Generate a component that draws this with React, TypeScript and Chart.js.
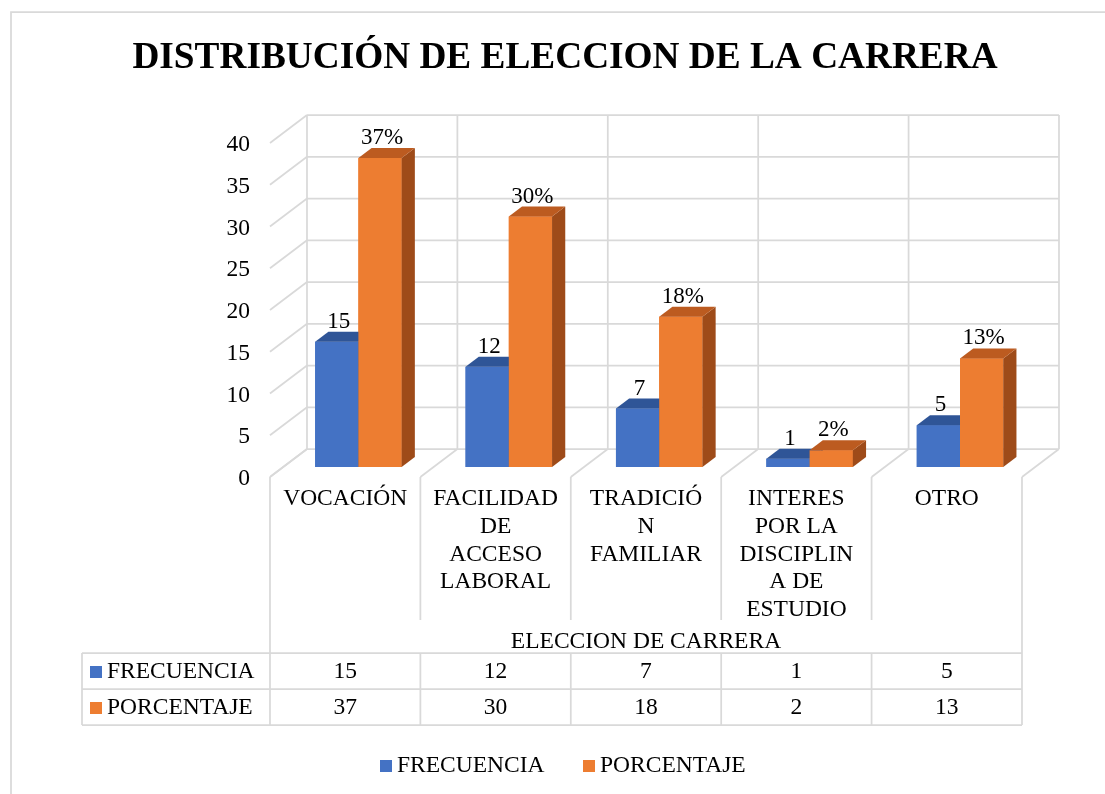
import React, { useEffect, useRef } from "react";
import { Chart, registerables } from "chart.js";

Chart.register(...registerables);

// ---------- data ----------
const TITLE = "DISTRIBUCIÓN DE ELECCION DE LA CARRERA";
const AXIS_TITLE = "ELECCION DE CARRERA";
const CATEGORIES: string[][] = [
  ["VOCACIÓN"],
  ["FACILIDAD", "DE", "ACCESO", "LABORAL"],
  ["TRADICIÓ", "N", "FAMILIAR"],
  ["INTERES", "POR LA", "DISCIPLIN", "A DE", "ESTUDIO"],
  ["OTRO"],
];
const SERIES_NAMES = ["FRECUENCIA", "PORCENTAJE"];
const FRECUENCIA = [15, 12, 7, 1, 5];
const PORCENTAJE = [37, 30, 18, 2, 13];
const LABEL_SUFFIX = ["", "%"];
const Y_TICKS = [0, 5, 10, 15, 20, 25, 30, 35, 40];

// ---------- styles ----------
const FONT = "'Liberation Serif', 'Times New Roman', serif";
const GRID = "#d9d9d9";
const FRONT_COLORS = ["#4472C4", "#ED7D31"];
const TOP_COLORS = ["#2F5597", "#BC5B20"];
const SIDE_COLORS = ["#284B87", "#9E4B19"];
const DEPTH_X = 37;
const DEPTH_Y = 28;
const BAR_T0 = 10 / 28;
const BAR_T1 = 20 / 28;

function pt(chart: any, edge: number, v: number, t: number): [number, number] {
  const xs = chart.scales.x;
  const ys = chart.scales.y;
  const x = xs.getPixelForValue(edge - 0.5) + (t - BAR_T0) * DEPTH_X;
  const y = ys.getPixelForValue(v) - (t - BAR_T0) * DEPTH_Y;
  return [x, y];
}

function line(ctx: CanvasRenderingContext2D, a: [number, number], b: [number, number]) {
  ctx.beginPath();
  ctx.moveTo(a[0], a[1]);
  ctx.lineTo(b[0], b[1]);
  ctx.stroke();
}

const threeD = {
  id: "threeD",
  beforeDatasetsDraw(chart: any) {
    const ctx: CanvasRenderingContext2D = chart.ctx;
    const n = CATEGORIES.length;
    ctx.save();
    ctx.strokeStyle = GRID;
    ctx.lineWidth = 1.75;

    // outer chart border
    ctx.beginPath();
    ctx.moveTo(11, 800);
    ctx.lineTo(11, 12);
    ctx.lineTo(1110, 12);
    ctx.stroke();

    // back wall horizontal grid + side wall diagonals
    const yMax = Y_TICKS[Y_TICKS.length - 1];
    for (const v of Y_TICKS) {
      line(ctx, pt(chart, 0, v, 1), pt(chart, n, v, 1));
      line(ctx, pt(chart, 0, v, 0), pt(chart, 0, v, 1));
    }
    // back wall verticals + floor diagonals
    for (let i = 0; i <= n; i++) {
      line(ctx, pt(chart, i, 0, 1), pt(chart, i, yMax, 1));
      line(ctx, pt(chart, i, 0, 0), pt(chart, i, 0, 1));
    }

    // category label columns below floor
    const floorY = pt(chart, 0, 0, 0)[1];
    const tableTop = floorY + 176;
    const rowH = 36;
    for (let i = 0; i <= n; i++) {
      const [x] = pt(chart, i, 0, 0);
      const bottom = i === 0 || i === n ? tableTop : floorY + 143;
      line(ctx, [x, floorY], [x, bottom]);
    }

    // table
    const tLeft = 82;
    const tRight = pt(chart, n, 0, 0)[0];
    for (let r = 0; r <= SERIES_NAMES.length; r++) {
      line(ctx, [tLeft, tableTop + r * rowH], [tRight, tableTop + r * rowH]);
    }
    const tBottom = tableTop + SERIES_NAMES.length * rowH;
    line(ctx, [tLeft, tableTop], [tLeft, tBottom]);
    for (let i = 0; i <= n; i++) {
      const [x] = pt(chart, i, 0, 0);
      line(ctx, [x, tableTop], [x, tBottom]);
    }

    ctx.fillStyle = "#000";
    // y tick labels
    ctx.font = `23.5px ${FONT}`;
    ctx.textAlign = "right";
    ctx.textBaseline = "middle";
    for (const v of Y_TICKS) {
      const [x, y] = pt(chart, 0, v, 0);
      ctx.fillText(String(v), x - 20, y + 2);
    }

    // category labels
    ctx.textAlign = "center";
    CATEGORIES.forEach((lines, i) => {
      const cx = (pt(chart, i, 0, 0)[0] + pt(chart, i + 1, 0, 0)[0]) / 2;
      lines.forEach((s, k) => {
        ctx.fillText(s, cx, floorY + 22 + k * 27.7);
      });
    });

    // axis title
    const midX = (pt(chart, 0, 0, 0)[0] + tRight) / 2;
    ctx.fillText(AXIS_TITLE, midX, floorY + 165);

    // table contents
    const seriesData = [FRECUENCIA, PORCENTAJE];
    SERIES_NAMES.forEach((name, r) => {
      const cy = tableTop + r * rowH + rowH / 2 + 1;
      ctx.fillStyle = FRONT_COLORS[r];
      ctx.fillRect(90, cy - 6, 12, 12);
      ctx.fillStyle = "#000";
      ctx.textAlign = "left";
      ctx.fillText(name, 107, cy);
      ctx.textAlign = "center";
      seriesData[r].forEach((v, i) => {
        const cx = (pt(chart, i, 0, 0)[0] + pt(chart, i + 1, 0, 0)[0]) / 2;
        ctx.fillText(String(v), cx, cy);
      });
    });

    // legend
    const legendX = [380, 583];
    SERIES_NAMES.forEach((name, r) => {
      ctx.fillStyle = FRONT_COLORS[r];
      ctx.fillRect(legendX[r], 760, 12, 12);
      ctx.fillStyle = "#000";
      ctx.textAlign = "left";
      ctx.fillText(name, legendX[r] + 17, 766);
    });

    // title
    ctx.font = `bold 37.3px ${FONT}`;
    ctx.textAlign = "center";
    ctx.fillText(TITLE, 565, 58);
    ctx.restore();
  },
  afterDatasetsDraw(chart: any) {
    const ctx: CanvasRenderingContext2D = chart.ctx;
    const dx = (BAR_T1 - BAR_T0) * DEPTH_X;
    const dy = (BAR_T1 - BAR_T0) * DEPTH_Y;
    const metas = chart.data.datasets.map((_: any, di: number) => chart.getDatasetMeta(di));
    ctx.save();
    // repaint each category's bars in series order, with top and side faces
    CATEGORIES.forEach((_, i) => {
      metas.forEach((meta: any, ds: number) => {
        const el = meta.data[i];
        const { x, y, base, width } = el.getProps(["x", "y", "base", "width"], true);
        const x0 = x - width / 2;
        const x1 = x + width / 2;
        ctx.fillStyle = FRONT_COLORS[ds];
        ctx.fillRect(x0, y, width, base - y);
        ctx.fillStyle = SIDE_COLORS[ds];
        ctx.beginPath();
        ctx.moveTo(x1, y);
        ctx.lineTo(x1 + dx, y - dy);
        ctx.lineTo(x1 + dx, base - dy);
        ctx.lineTo(x1, base);
        ctx.closePath();
        ctx.fill();
        ctx.fillStyle = TOP_COLORS[ds];
        ctx.beginPath();
        ctx.moveTo(x0, y);
        ctx.lineTo(x1, y);
        ctx.lineTo(x1 + dx, y - dy);
        ctx.lineTo(x0 + dx, y - dy);
        ctx.closePath();
        ctx.fill();
      });
    });
    // data labels
    ctx.fillStyle = "#000";
    ctx.font = `23px ${FONT}`;
    ctx.textAlign = "center";
    ctx.textBaseline = "middle";
    chart.data.datasets.forEach((d: any, di: number) => {
      metas[di].data.forEach((el: any, i: number) => {
        const { x, y } = el.getProps(["x", "y"], true);
        ctx.fillText(String(d.data[i]) + LABEL_SUFFIX[di], x + 2, y - 20);
      });
    });
    ctx.restore();
  },
};

export default function App() {
  const ref = useRef<HTMLCanvasElement | null>(null);
  useEffect(() => {
    if (!ref.current) return;
    const chart = new Chart(ref.current, {
      type: "bar",
      data: {
        labels: CATEGORIES,
        datasets: [
          {
            label: SERIES_NAMES[0],
            data: FRECUENCIA,
            backgroundColor: FRONT_COLORS[0],
            borderWidth: 0,
          },
          {
            label: SERIES_NAMES[1],
            data: PORCENTAJE,
            backgroundColor: FRONT_COLORS[1],
            borderWidth: 0,
          },
        ],
      },
      options: {
        animation: false,
        responsive: false,
        devicePixelRatio: 1,
        layout: { padding: { left: 283.2, right: 69.8, top: 133, bottom: 327 } },
        datasets: { bar: { categoryPercentage: 0.575, barPercentage: 1 } },
        scales: {
          x: { display: false },
          y: { display: false, min: 0, max: 40 },
        },
        plugins: {
          legend: { display: false },
          tooltip: { enabled: false },
          title: { display: false },
        },
      },
      plugins: [threeD],
    });
    return () => chart.destroy();
  }, []);
  return (
    <div style={{ position: "absolute", left: 0, top: 0, width: 1105, height: 794, background: "#fff" }}>
      <canvas ref={ref} width={1105} height={794} />
    </div>
  );
}
